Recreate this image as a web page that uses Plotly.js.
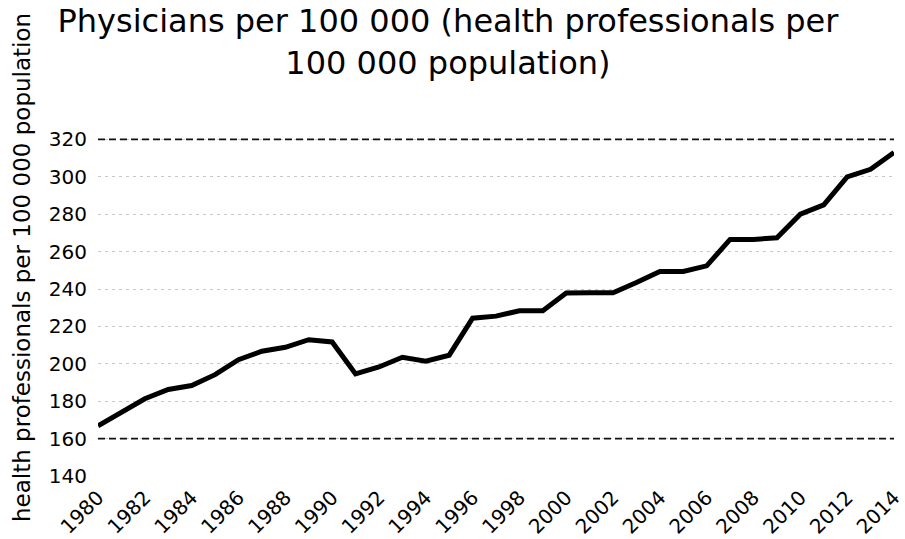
<!DOCTYPE html>
<html>
<head>
<meta charset="utf-8">
<script src="https://cdn.plot.ly/plotly-3.0.1.min.js"></script>
<style>html,body{margin:0;padding:0;background:#fff;}#chart{width:905px;height:539px;}</style>
</head>
<body>
<div id="chart"></div>
<script>
const years = [1980,1981,1982,1983,1984,1985,1986,1987,1988,1989,1990,1991,1992,1993,1994,1995,1996,1997,1998,1999,2000,2001,2002,2003,2004,2005,2006,2007,2008,2009,2010,2011,2012,2013,2014];
const physicians = [166.8,173.8,181.3,186.3,188.4,194.2,202.2,206.7,208.8,212.9,211.7,194.6,198.3,203.5,201.4,204.6,224.4,225.5,228.4,228.4,237.8,238,238,243.5,249.4,249.4,252.4,266.5,266.5,267.4,280,285,300,304,313];
const xTickVals = [1980,1982,1984,1986,1988,1990,1992,1994,1996,1998,2000,2002,2004,2006,2008,2010,2012,2014];
const yTickVals = [140,160,180,200,220,240,260,280,300,320,340];
const yTickText = ['140','160','180','200','220','240','260','280','300','320',''];
const boldGrid = [160,320];
const titleText = 'Physicians per 100 000 (health professionals per<br>100 000 population)';
const yTitleText = 'health professionals per 100 000 population';

const FONT = '"DejaVu Sans", "Open Sans", sans-serif';

const trace = {
  x: years, y: physicians, type: 'scatter', mode: 'lines',
  line: {color: '#000', width: 5}, hoverinfo: 'x+y'
};

const shapes = boldGrid.map(v => ({
  type: 'line', xref: 'paper', yref: 'y', x0: 0, x1: 1, y0: v, y1: v,
  line: {color: '#111', width: 1.6, dash: '7px,4px'}, layer: 'above'
}));

const layout = {
  width: 905, height: 539,
  margin: {l: 98, r: 11, t: 102, b: 63},
  paper_bgcolor: '#fff', plot_bgcolor: '#fff',
  showlegend: false,
  font: {family: FONT, color: '#000'},
  title: {text: titleText, font: {family: FONT, size: 32, color: '#000'},
          xref: 'container', yref: 'container', x: 0.495, xanchor: 'center', y: 0.94, yanchor: 'bottom'},
  xaxis: {
    range: [1979.999, 2014.001], tickvals: xTickVals, tickangle: -45,
    tickfont: {family: FONT, size: 20, color: '#000'},
    ticklabeloverflow: 'allow', ticklabelstandoff: 5,
    showgrid: false, zeroline: false, showline: false, ticks: '', fixedrange: true
  },
  yaxis: {
    range: [140, 340], tickvals: yTickVals, ticktext: yTickText,
    tickfont: {family: FONT, size: 20, color: '#000'},
    ticklabelstandoff: 10,
    showgrid: true, gridcolor: '#c8c8c8', gridwidth: 1, griddash: '3px,4px',
    zeroline: false, showline: false, ticks: '',
    automargin: false, fixedrange: true
  },
  annotations: [{
    text: yTitleText, textangle: -90, showarrow: false,
    xref: 'paper', yref: 'paper', x: (22 - 98) / 796, y: (476 - 268) / 374,
    xanchor: 'center', yanchor: 'middle',
    font: {family: FONT, size: 23, color: '#000'}
  }],
  shapes: shapes
};

Plotly.newPlot('chart', [trace], layout, {displayModeBar: false, staticPlot: true});
</script>
</body>
</html>
